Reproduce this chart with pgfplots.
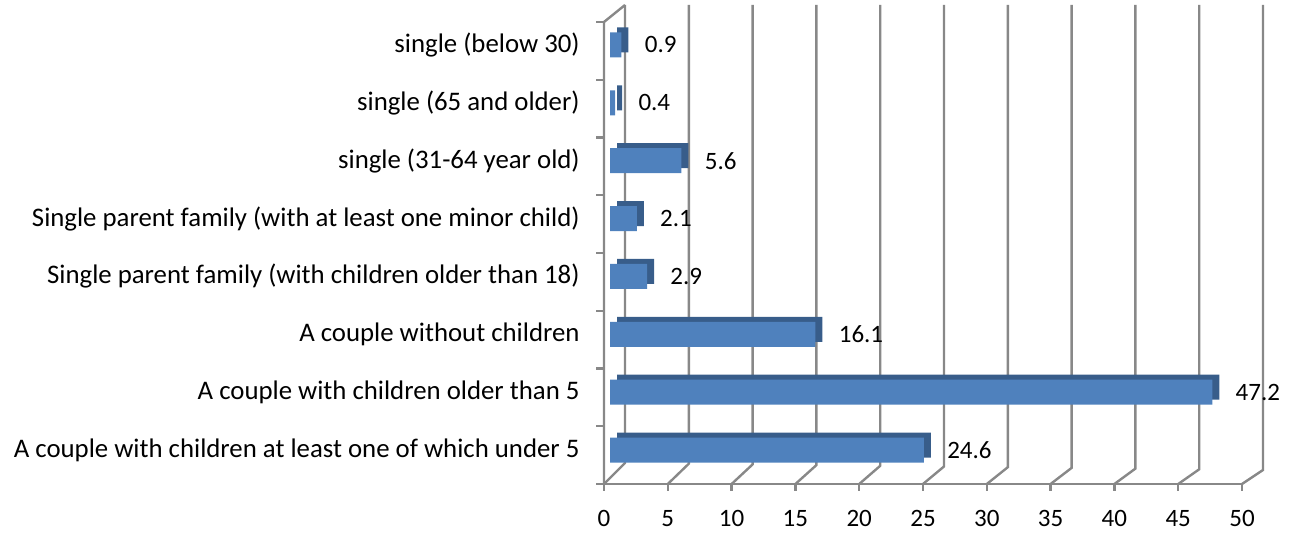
\documentclass[border=0pt]{standalone}
\usepackage{pgfplots}
\pgfplotsset{compat=1.18}
\usepackage{fontspec}
\setmainfont{Carlito}

\definecolor{barfront}{HTML}{4F81BD}
\definecolor{bartop}{HTML}{385D8A}
\definecolor{gridgray}{HTML}{888888}

\begin{document}
\begin{tikzpicture}
% walls and grid (pixel units, y upwards)
\begin{scope}[x=0.5pt,y=0.5pt,draw=gridgray,line width=1.2pt]
  \foreach \v in {0,5,...,50}{
    \pgfmathsetmacro{\xf}{604+12.76*\v}
    \pgfmathsetmacro{\xb}{625+12.76*\v}
    \pgfmathsetmacro{\yb}{70-0.14*\v}
    \draw (\xf,49) -- (\xb,\yb) -- (\xb,528);
    \draw (\xf,49) -- (\xf,42);
  }
  \draw (604,49) -- (1243,49);
  \draw (604,49) -- (604,511) -- (625,528);
  \foreach \k in {0,...,8}{
    \draw (596,511-57.75*\k) -- (604,511-57.75*\k);
  }
\end{scope}

\begin{axis}[
  at={(305pt,27pt)}, anchor=south west,
  scale only axis,
  width=319pt, height=231.5pt,
  xmin=0, xmax=50,
  ymin=-0.5, ymax=7.5,
  axis line style={draw=none},
  major tick length=0pt,
  xtick={0,5,...,50},
  ytick={0,...,7},
  yticklabels={A couple with children at least one of which under 5,
    A couple with children older than 5,
    A couple without children,
    Single parent family (with children older than 18),
    Single parent family (with at least one minor child),
    single (31-64 year old),
    single (65 and older)\ ,
    single (below 30)},
  yticklabel style={anchor=east, inner sep=0pt, xshift=-15pt,
    font=\fontsize{13.4}{15}\selectfont},
  xticklabel style={anchor=north, inner sep=0pt, yshift=-15.5pt, xshift=-3pt,
    font=\fontsize{12.5}{14}\selectfont},
  /pgf/number format/assume math mode=true,
  xbar, bar width=12.5pt,
  clip=false,
]
\addplot[xbar, bar shift=0pt, fill=bartop, draw=none, xshift=3.5pt, yshift=2.5pt]
  coordinates {(24.6,0) (47.2,1) (16.1,2) (2.9,3) (2.1,4) (5.6,5) (0.4,6) (0.9,7)};
\addplot[xbar, bar shift=0pt, fill=barfront, draw=none,
  nodes near coords,
  nodes near coords style={anchor=west, inner sep=0pt, xshift=11.5pt,
    font=\fontsize{12.5}{14}\selectfont, text=black},
  point meta=x]
  coordinates {(24.6,0) (47.2,1) (16.1,2) (2.9,3) (2.1,4) (5.6,5) (0.4,6) (0.9,7)};
\end{axis}
\pgfresetboundingbox
\useasboundingbox (0,0) rectangle (649.5pt,266.5pt);
\end{tikzpicture}
\end{document}
